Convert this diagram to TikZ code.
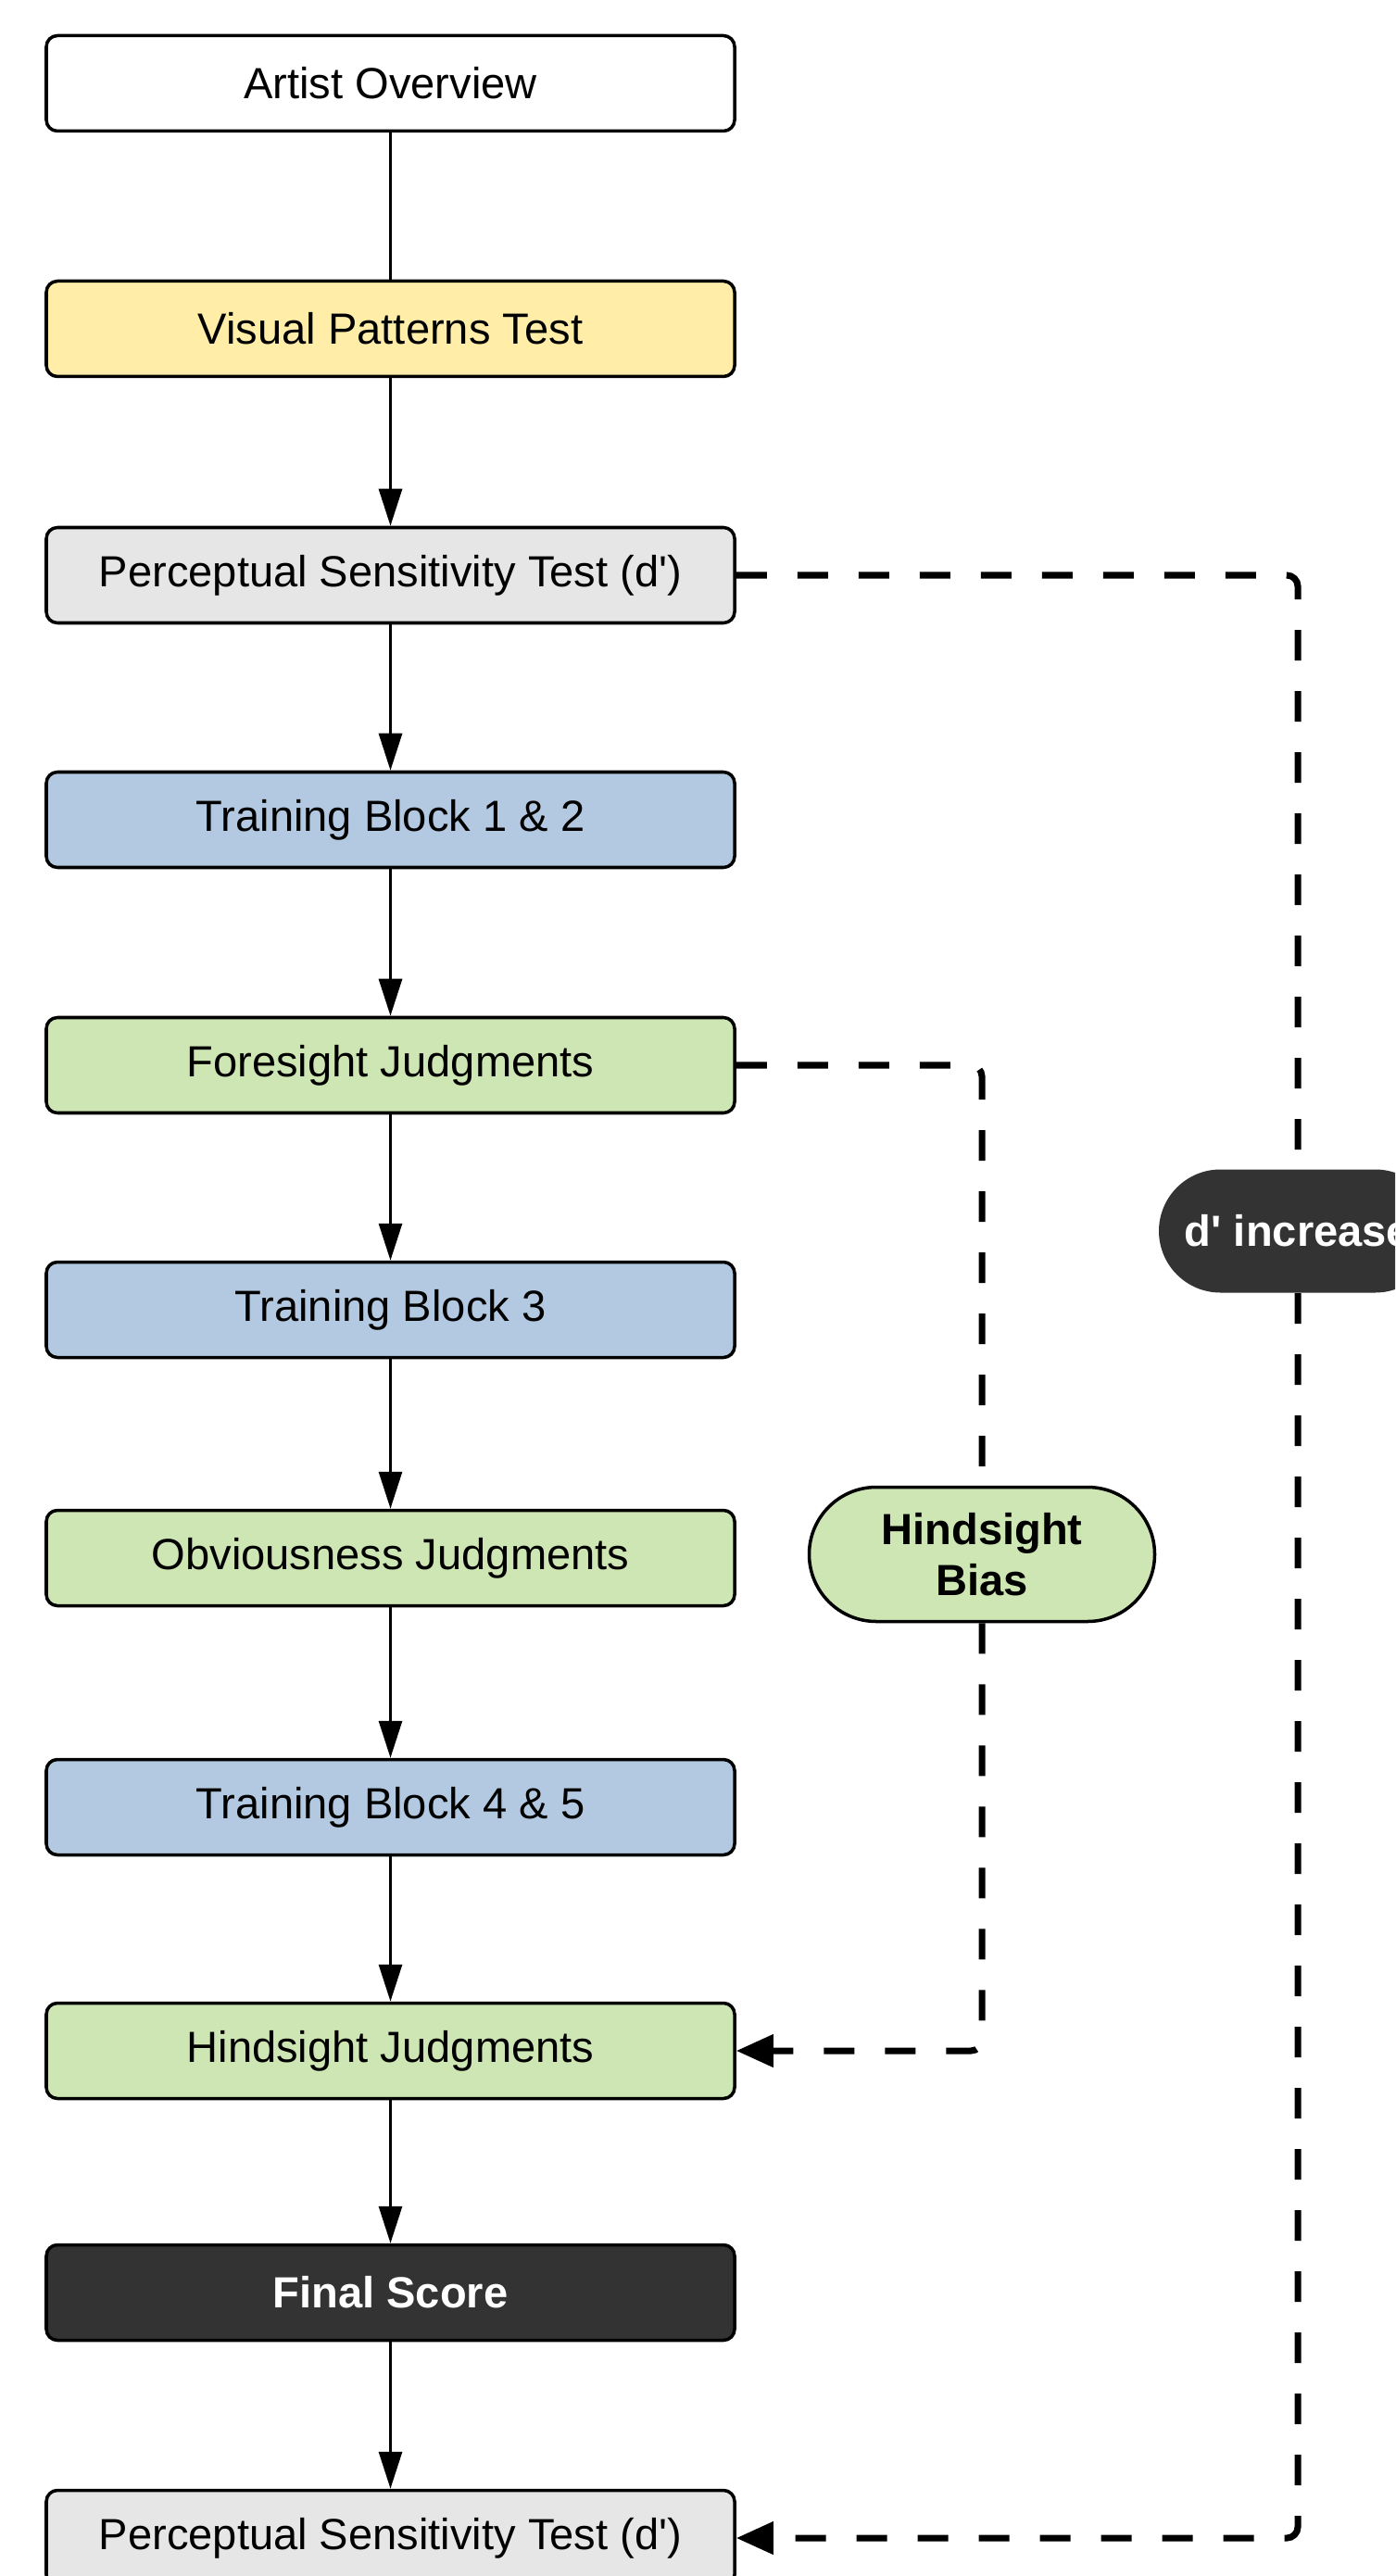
\documentclass[tikz,border=0pt]{standalone}
\usepackage{fontspec}
\setmainfont{Liberation Sans}
\usetikzlibrary{arrows.meta,shapes.misc}
\definecolor{stageyellow}{HTML}{FFEDA8}
\definecolor{stagegray}{HTML}{E6E6E6}
\definecolor{stageblue}{HTML}{B3C9E1}
\definecolor{stagegreen}{HTML}{CDE6B3}
\definecolor{stagedark}{HTML}{333333}
\begin{document}
\begin{tikzpicture}[
    stage/.style={draw, line width=1pt, rounded corners=0.12cm, minimum width=7.43cm,
        minimum height=1.03cm, inner sep=0pt, font=\fontsize{13.4}{16}\selectfont},
    flow/.style={line width=0.85pt, -{Triangle[length=0.4cm,width=0.25cm]}},
    link/.style={line width=2pt, dash pattern=on 0.33cm off 0.33cm, rounded corners=0.12cm},
    linkend/.style={link, -{Triangle[length=0.4cm,width=0.34cm]}},
    pill/.style={rounded rectangle, inner sep=0pt, align=center,
        font=\fontsize{13.4}{15.6}\selectfont\bfseries}
]
    \useasboundingbox (0,0) rectangle (15.06,-27.81);
    \clip (0,0) rectangle (15.06,-27.81);
    % main column
    \node[stage, fill=white] (artist) at (4.215,-0.90) {Artist Overview};
    \node[stage, fill=stageyellow] (visual) at (4.215,-3.55) {Visual Patterns Test};
    \node[stage, fill=stagegray] (pst1) at (4.215,-6.21) {Perceptual Sensitivity Test (d\textquotesingle)};
    \node[stage, fill=stageblue] (tb12) at (4.215,-8.85) {Training Block 1 \& 2};
    \node[stage, fill=stagegreen] (foresight) at (4.215,-11.50) {Foresight Judgments};
    \node[stage, fill=stageblue] (tb3) at (4.215,-14.14) {Training Block 3};
    \node[stage, fill=stagegreen] (obvious) at (4.215,-16.82) {Obviousness Judgments};
    \node[stage, fill=stageblue] (tb45) at (4.215,-19.51) {Training Block 4 \& 5};
    \node[stage, fill=stagegreen] (hindsight) at (4.215,-22.14) {Hindsight Judgments};
    \node[stage, fill=stagedark, text=white, font=\fontsize{13.4}{16}\selectfont\bfseries] (final) at (4.215,-24.75) {Final Score};
    \node[stage, fill=stagegray] (pst2) at (4.215,-27.40) {Perceptual Sensitivity Test (d\textquotesingle)};
    % side labels
    \node[pill, fill=stagedark, text=white, minimum width=3.0cm, minimum height=1.33cm] (dinc) at (14.01,-13.29) {d\textquotesingle{} increase};
    \node[pill, draw, line width=1pt, fill=stagegreen, minimum width=3.73cm, minimum height=1.45cm] (hbias) at (10.6,-16.78) {Hindsight\\Bias};
    % connectors
    \draw[line width=0.85pt] (artist) -- (visual);
    \draw[flow] (visual) -- (pst1);
    \draw[flow] (pst1) -- (tb12);
    \draw[flow] (tb12) -- (foresight);
    \draw[flow] (foresight) -- (tb3);
    \draw[flow] (tb3) -- (obvious);
    \draw[flow] (obvious) -- (tb45);
    \draw[flow] (tb45) -- (hindsight);
    \draw[flow] (hindsight) -- (final);
    \draw[flow] (final) -- (pst2);
    % dashed links
    \draw[link] (pst1.east) -| (dinc.north);
    \draw[linkend] (dinc.south) |- (pst2.east);
    \draw[link] (foresight.east) -| (hbias.north);
    \draw[linkend] (hbias.south) |- (hindsight.east);
\end{tikzpicture}
\end{document}
